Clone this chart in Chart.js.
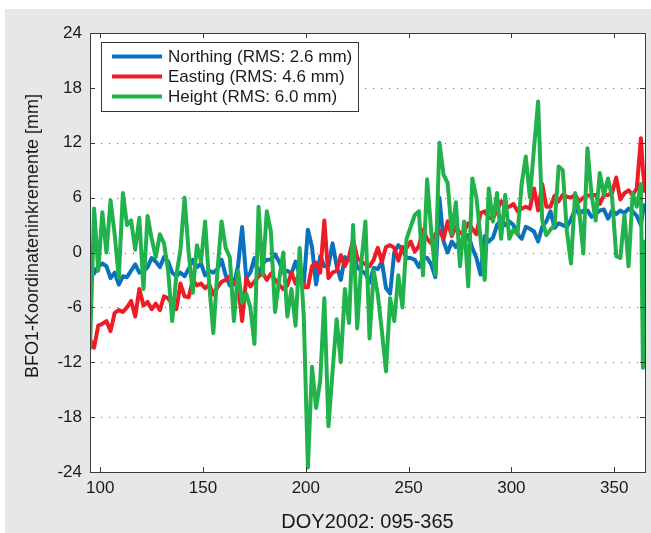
<!DOCTYPE html>
<html><head><meta charset="utf-8">
<script src="https://cdn.jsdelivr.net/npm/chart.js@4"></script>
<style>
html,body{margin:0;padding:0;background:#fff;}
#wrap{position:absolute;left:0;top:0;width:651px;height:533px;}
</style></head><body>
<div id="wrap"><canvas id="c" width="651" height="533"></canvas></div>
<script>
const days = [95,97,99,101,103,105,107,109,111,113,
115,117,119,121,123,125,127,129,131,133,
135,137,139,141,143,145,147,149,151,153,
155,157,159,161,163,165,167,169,171,173,
175,177,179,181,183,185,187,189,191,193,
195,197,199,201,203,205,207,209,211,213,
215,217,219,221,223,225,227,229,231,233,
235,237,239,241,243,245,247,249,251,253,
255,257,259,261,263,265,267,269,271,273,
275,277,279,281,283,285,287,289,291,293,
295,297,299,301,303,305,307,309,311,313,
315,317,319,321,323,325,327,329,331,333,
335,337,339,341,343,345,347,349,351,353,
355,357,359,361,363,364,365];

const northing = [-0.8,-2.3,-1.5,-1.2,-1.5,-2.8,-2.2,-3.5,-2.6,-2.7,-2.0,-1.3,-2.2,-2.0,-1.6,-0.6,-1.0,-1.6,-0.5,-1.0,-2.2,-2.6,-2.2,-2.6,-1.8,-0.8,-1.6,-1.2,-2.5,-2.0,-2.2,-1.8,-0.8,-2.5,-3.6,
-3.5,-1.5,2.8,-2.8,-2.2,-0.6,-2.6,-1.2,-0.8,-0.8,-0.2,-1.0,-2.2,-2.0,-2.3,-1.0,-2.5,-3.5,2.5,0.6,-3.5,-0.4,-1.5,-1.5,1.0,-1.5,-3.0,-0.5,-0.8,0.2,-1.6,-2.0,-2.3,-3.3,
-1.7,-1.8,-1.0,-3.9,-4.5,0.0,0.8,0.3,-0.6,-0.6,-0.8,-1.6,-0.5,-0.6,-1.3,-2.7,6.0,1.2,0.0,1.2,0.6,1.2,1.0,1.9,0.5,-0.6,-2.4,1.8,1.2,1.6,3.0,3.6,3.0,3.4,
3.0,2.0,1.5,2.8,2.6,2.3,1.2,2.8,3.4,4.5,2.7,3.2,3.0,2.8,3.6,4.8,4.2,4.6,4.6,3.9,4.2,4.6,4.7,3.7,4.6,4.2,4.6,4.3,4.8,4.5,4.0,3.0,4.5,5.2];

const easting = [-9.5,-10.4,-8.0,-7.8,-7.5,-8.6,-6.6,-6.3,-6.5,-6.0,-5.3,-7.0,-4.0,-5.8,-5.4,-6.2,-5.6,-6.3,-4.8,-5.0,-5.6,-6.2,-3.4,-4.8,-4.9,-3.0,-3.6,-3.4,-3.9,-3.5,-4.6,-3.8,-3.2,-3.0,-2.6,
-3.2,-3.5,-7.5,-2.8,-3.7,-3.2,-2.6,-2.2,-3.0,-2.3,-3.0,-3.5,-4.0,-3.6,-2.2,-3.4,-2.1,-3.8,-3.8,-1.5,-1.1,-2.2,3.5,-2.8,-2.2,-2.0,-0.3,-1.5,-0.5,1.4,-0.6,-1.0,-1.3,-1.5,
-0.8,0.5,-1.0,0.6,0.8,0.5,-0.9,0.6,0.5,1.2,0.1,0.7,2.5,1.5,1.0,2.0,2.4,1.5,3.4,1.8,2.8,2.1,2.3,3.2,2.6,2.0,4.3,4.5,3.8,3.7,4.6,5.6,5.0,5.0,
5.3,4.5,4.8,5.0,4.8,7.0,4.6,7.5,5.0,5.0,6.2,5.6,6.3,6.1,6.0,6.3,5.6,6.0,6.2,6.3,6.3,5.3,6.3,6.3,6.5,8.2,5.8,6.5,6.8,6.3,7.0,12.5,9.0,6.7];

const heightVals = [-10.5,4.8,-2.0,4.4,0.0,5.7,2.0,-2.8,6.5,3.0,3.5,0.3,3.8,-4.0,4.0,1.5,-0.5,2.0,1.0,-2.0,-7.5,-2.5,0.3,6.0,0.0,-4.4,0.8,-1.0,3.4,-3.5,-8.8,-2.0,3.4,0.5,-0.5,
-7.5,-2.0,-5.5,-4.5,-6.0,-10.0,5.0,-2.5,4.5,2.3,-6.5,-3.0,0.0,-7.0,-4.0,-8.0,0.5,-7.0,-23.5,-12.5,-17.0,-14.0,-5.0,-19.0,-13.0,-7.3,-12.0,-4.0,-7.7,3.0,-8.3,-1.0,3.4,-9.4,
-2.0,-4.6,-8.6,-13.0,-5.0,-7.5,-2.5,-6.0,1.5,2.8,4.1,4.5,-2.5,8.0,2.3,-2.4,12.0,8.5,7.6,2.0,5.5,-1.5,3.4,-3.7,8.1,6.0,1.5,-3.0,7.0,3.4,6.5,1.5,6.3,1.5,
2.5,2.0,7.5,10.5,6.0,11.4,16.5,3.5,1.9,2.5,3.0,9.4,9.0,2.3,-1.2,6.5,4.5,-0.1,11.4,6.3,3.5,8.7,6.3,8.1,6.0,-0.4,-0.6,4.1,-1.5,6.5,5.0,7.5,-12.6,1.2];

const xTicks = [100,150,200,250,300,350];
const yTicks = [-24,-18,-12,-6,0,6,12,18,24];
const seriesLabels = ['Northing (RMS: 2.6 mm)','Easting (RMS: 4.6 mm)','Height (RMS: 6.0 mm)'];
const seriesColors = ['#0a70c0','#ee1c25','#22b24c'];
const xTitle = 'DOY2002: 095-365';
const yTitle = 'BFO1-Koordinateninkremente [mm]';

const FONT = '"Liberation Sans", Arial, Helvetica, sans-serif';

function pts(vals){ return days.map((d,i)=>({x:d,y:vals[i]})); }

const decor = {
  id:'decor',
  beforeDraw(c){
    const ctx=c.ctx, a=c.chartArea;
    ctx.save();
    ctx.fillStyle='#ffffff'; ctx.fillRect(0,0,651,533);
    ctx.fillStyle='#e6e7e8'; ctx.fillRect(5,9,646,524);
    ctx.fillStyle='#ffffff'; ctx.fillRect(a.left,a.top,a.right-a.left,a.bottom-a.top);
    ctx.restore();
  },
  beforeDatasetsDraw(c){
    const ctx=c.ctx, a=c.chartArea, ys=c.scales.y;
    ctx.save();
    ctx.strokeStyle='#6a6a6a'; ctx.lineWidth=1; ctx.setLineDash([1,7]);
    yTicks.forEach(v=>{
      if(v===ys.min||v===ys.max) return;
      const y=Math.round(ys.getPixelForValue(v))+0.5;
      ctx.beginPath(); ctx.moveTo(a.left+3,y); ctx.lineTo(a.right,y); ctx.stroke();
    });
    ctx.restore();
  },
  afterDatasetsDraw(c){
    const ctx=c.ctx, a=c.chartArea, xs=c.scales.x, ys=c.scales.y;
    ctx.save();
    ctx.strokeStyle='#3a3a3a'; ctx.lineWidth=1; ctx.setLineDash([]);
    ctx.strokeRect(Math.round(a.left)+0.5,Math.round(a.top)+0.5,Math.round(a.right-a.left),Math.round(a.bottom-a.top));
    const tl=5;
    ctx.beginPath();
    yTicks.forEach(v=>{
      const y=Math.round(ys.getPixelForValue(v))+0.5;
      ctx.moveTo(a.left,y); ctx.lineTo(a.left+tl,y);
      ctx.moveTo(a.right,y); ctx.lineTo(a.right-tl,y);
    });
    xTicks.forEach(v=>{
      const x=Math.round(xs.getPixelForValue(v))+0.5;
      ctx.moveTo(x,a.bottom); ctx.lineTo(x,a.bottom-tl);
      ctx.moveTo(x,a.top); ctx.lineTo(x,a.top+tl);
    });
    ctx.stroke();
    // legend
    const lx=101.5, ly=42.5, lw=257, lh=69;
    ctx.fillStyle='#ffffff'; ctx.fillRect(lx,ly,lw,lh);
    ctx.strokeStyle='#333'; ctx.strokeRect(lx,ly,lw,lh);
    ctx.font='17px '+FONT; ctx.textBaseline='middle'; ctx.textAlign='left';
    seriesLabels.forEach((lab,i)=>{
      const y=56.5+i*20;
      ctx.strokeStyle=seriesColors[i]; ctx.lineWidth=4;
      ctx.beginPath(); ctx.moveTo(112,y); ctx.lineTo(162,y); ctx.stroke();
      ctx.fillStyle='#1a1a1a'; ctx.fillText(lab,168,y+0.5);
    });
    ctx.restore();
  },
  afterDraw(c){
    const ctx=c.ctx, a=c.chartArea;
    ctx.save();
    ctx.fillStyle='#1a1a1a';
    ctx.textAlign='center'; ctx.textBaseline='middle';
    ctx.font='20px '+FONT;
    ctx.fillText(xTitle,(a.left+a.right)/2,522);
    ctx.translate(33,236); ctx.rotate(-Math.PI/2);
    ctx.font='18px '+FONT;
    ctx.fillText(yTitle,0,0);
    ctx.restore();
  }
};

new Chart(document.getElementById('c'),{
  type:'line',
  data:{datasets:[
    {label:seriesLabels[0],data:pts(northing),borderColor:seriesColors[0],order:3},
    {label:seriesLabels[1],data:pts(easting),borderColor:seriesColors[1],order:2},
    {label:seriesLabels[2],data:pts(heightVals),borderColor:seriesColors[2],order:1}
  ]},
  options:{
    responsive:false, animation:false, devicePixelRatio:1,
    layout:{padding:{left:0,top:33,right:6,bottom:0}},
    elements:{point:{radius:0},line:{borderWidth:4,tension:0,borderJoinStyle:'round',borderCapStyle:'round',fill:false}},
    plugins:{legend:{display:false},tooltip:{enabled:false}},
    scales:{
      x:{type:'linear',min:95,max:365,
        afterBuildTicks:s=>{s.ticks=xTicks.map(v=>({value:v}));},
        afterFit:s=>{s.height=61;},
        grid:{display:false,drawTicks:false},border:{display:false},
        ticks:{font:{family:FONT,size:17},color:'#1a1a1a',padding:6,maxRotation:0,autoSkip:false}},
      y:{type:'linear',min:-24,max:24,
        afterBuildTicks:s=>{s.ticks=yTicks.map(v=>({value:v}));},
        afterFit:s=>{s.width=90;},
        grid:{display:false,drawTicks:false},border:{display:false},
        ticks:{font:{family:FONT,size:17},color:'#1a1a1a',padding:8,autoSkip:false}}
    }
  },
  plugins:[decor]
});
</script>
</body></html>
